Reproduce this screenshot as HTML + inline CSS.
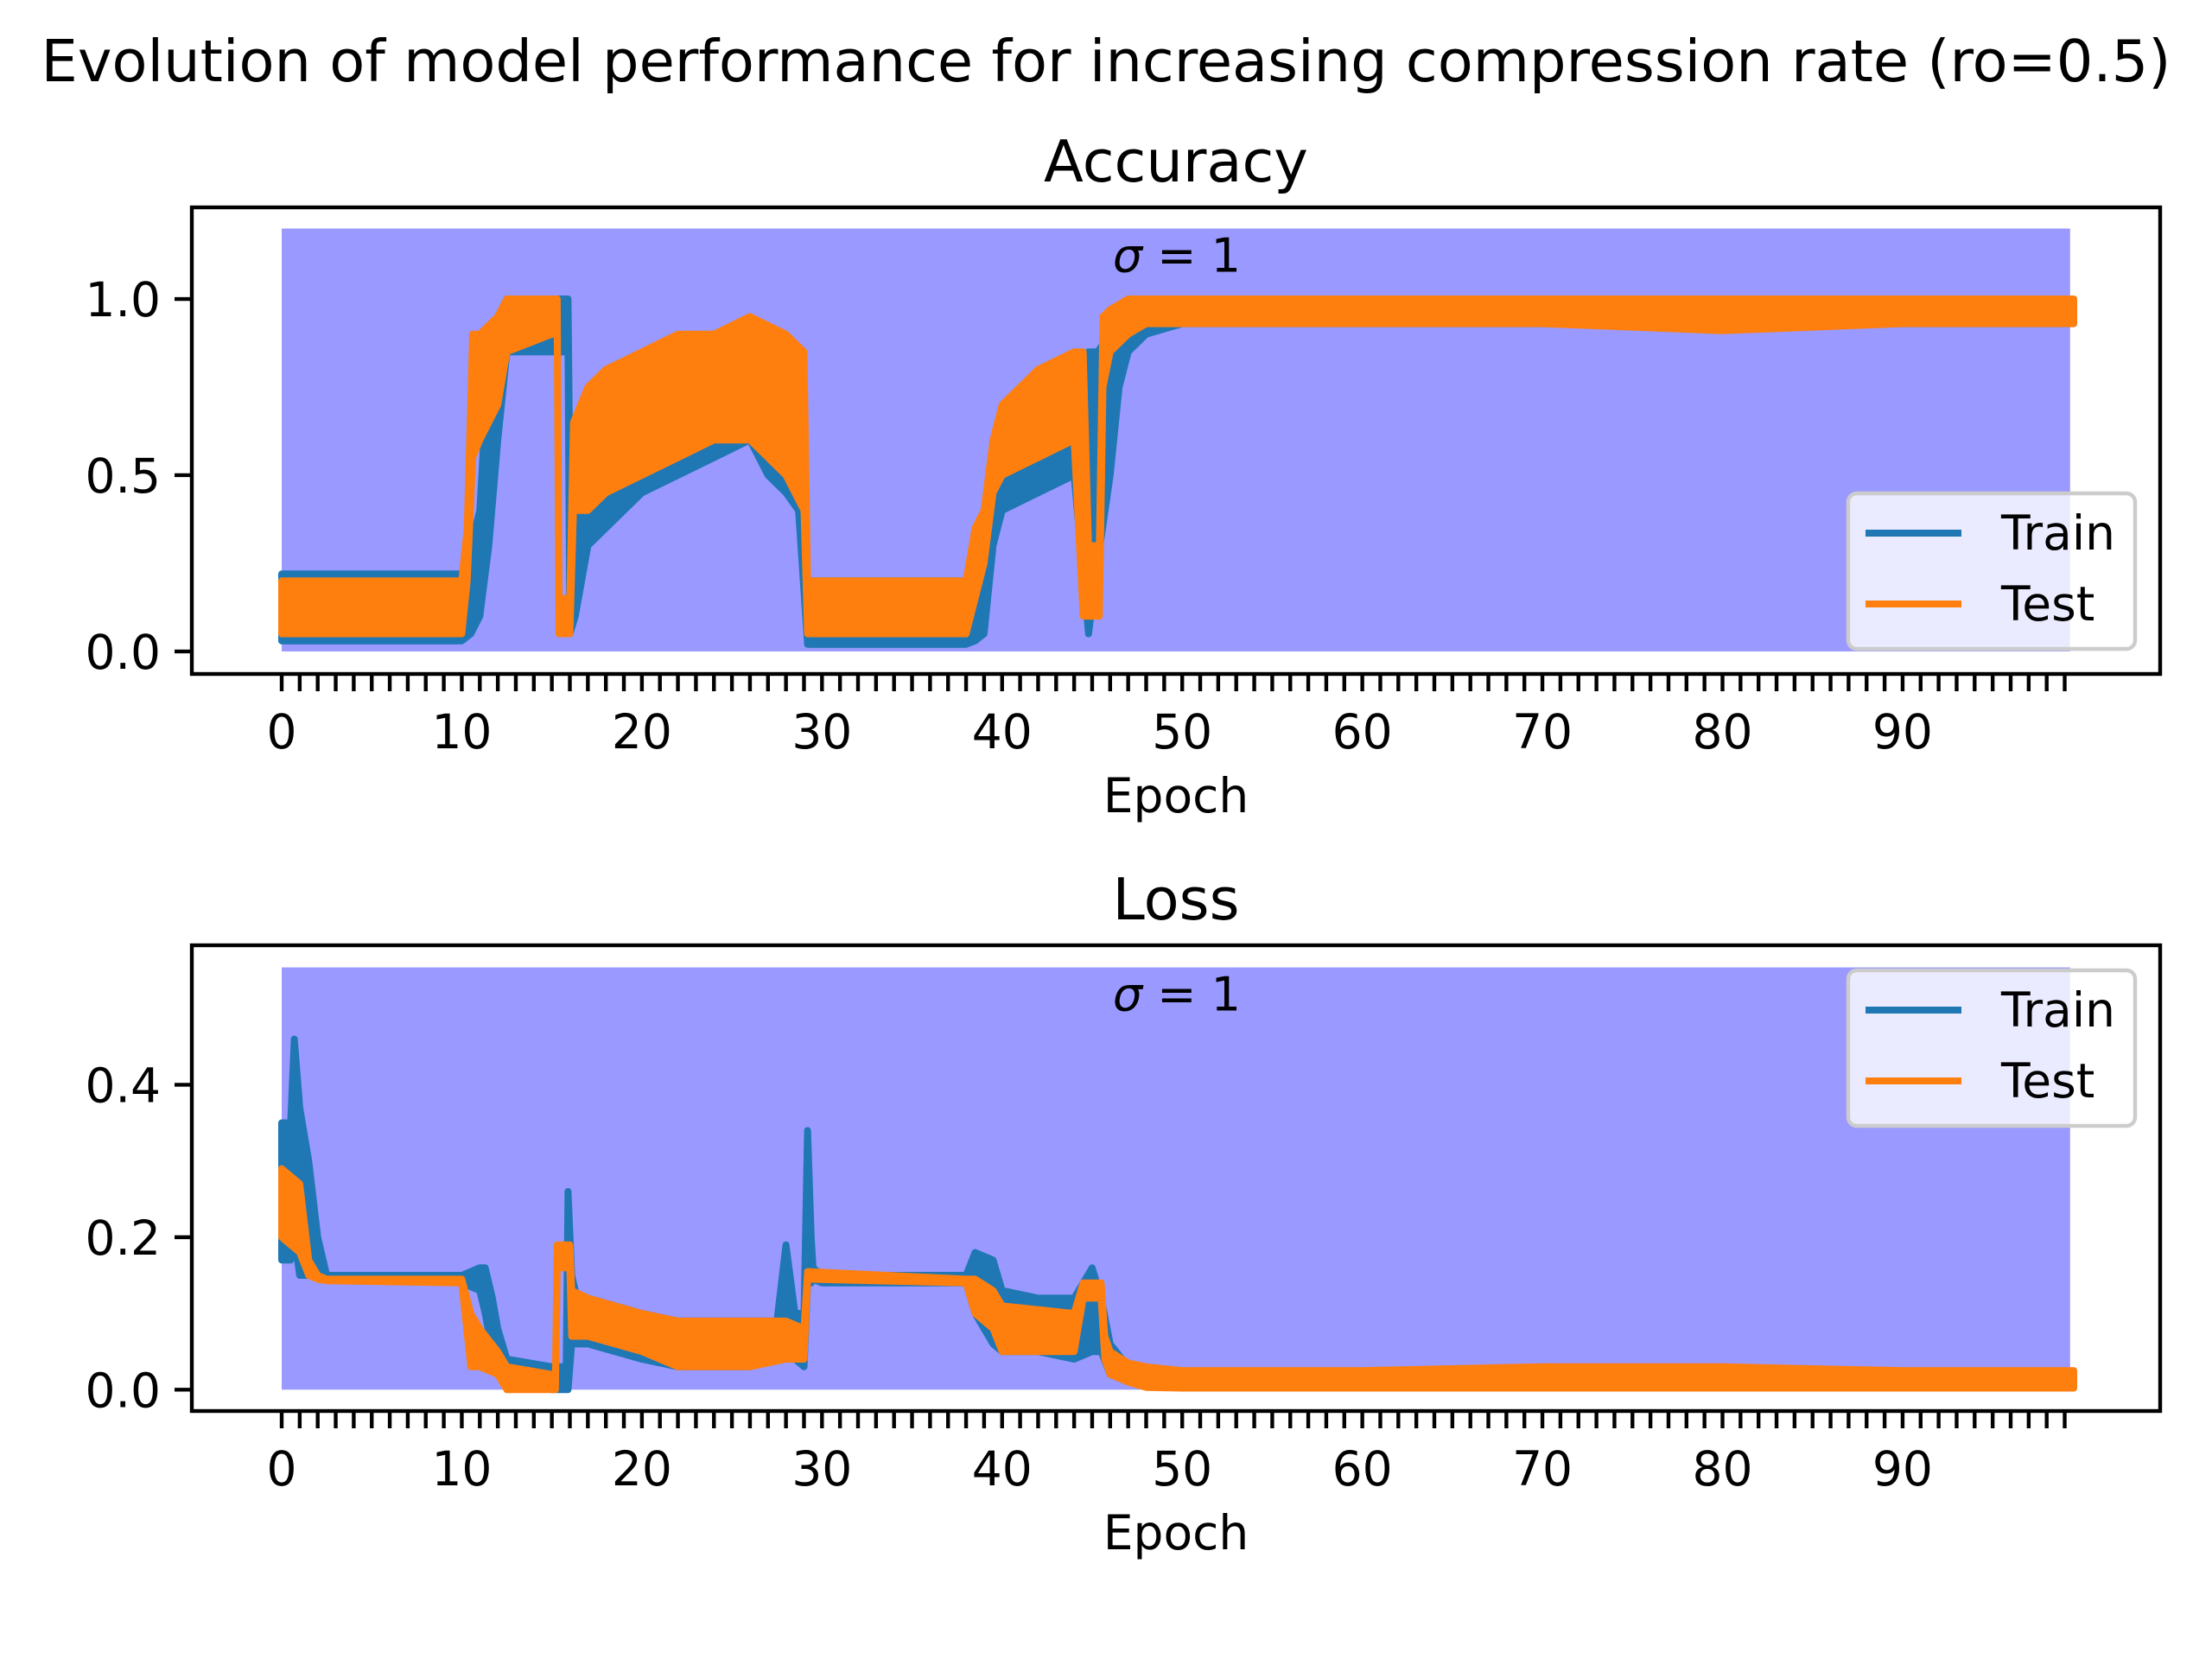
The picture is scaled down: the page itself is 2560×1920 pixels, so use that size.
<!DOCTYPE html>
<html><head><meta charset="utf-8"><style>
html,body{margin:0;padding:0;background:#fff;}
svg{display:block;font-family:"DejaVu Sans","Liberation Sans",sans-serif;}
</style></head><body>
<svg id="fig" width="2560" height="1920" viewBox="0 0 2560 1920" xmlns="http://www.w3.org/2000/svg">
<text x="1280" y="94" font-size="67" text-anchor="middle">Evolution of model performance for increasing compression rate (ro=0.5)</text>
</svg>
<script>
// ---- Accuracy data (envelope of noisy per-batch values) ----
const accTrainX  = [0,10,10.5,11,11.5,12,12.5,15,15.9,16.0,16.3,17,18,20,22,24,26,27,28,28.7,29.2,29.4,29.6,38,38.5,39,39.5,40,42,44,44.8,45.3,46,46.5,47,48,50,60,70,80,90,99.5];
const accTrainLo = [0.03,0.03,0.05,0.1,0.3,0.6,0.85,0.85,0.85,0.05,0.1,0.3,0.35,0.45,0.5,0.55,0.6,0.5,0.45,0.4,0.02,0.02,0.02,0.02,0.03,0.05,0.3,0.4,0.45,0.5,0.05,0.25,0.5,0.75,0.85,0.9,0.93,0.93,0.93,0.92,0.93,0.93];
const accTrainHi = [0.22,0.22,0.3,0.4,0.85,0.95,1.0,1.0,1.0,0.5,0.6,0.7,0.75,0.8,0.8,0.85,0.85,0.8,0.8,0.8,0.2,0.2,0.2,0.2,0.25,0.3,0.6,0.65,0.7,0.8,0.85,0.85,0.9,0.95,1.0,1.0,1.0,1.0,1.0,1.0,1.0,0.99];
const accTestX   = [0,10,10.3,10.6,11,12,12.5,15,15.3,15.4,16,16.2,17,18,20,22,24,26,28,29,29.2,38,38.5,39,39.5,40,42,44,44.5,44.8,45.4,45.6,46,47,48,50,60,70,80,90,99.5];
const accTestLo  = [0.05,0.05,0.2,0.55,0.6,0.7,0.85,0.9,0.9,0.05,0.05,0.4,0.4,0.45,0.5,0.55,0.6,0.6,0.5,0.4,0.05,0.05,0.15,0.25,0.45,0.5,0.55,0.6,0.1,0.1,0.1,0.75,0.85,0.9,0.93,0.93,0.93,0.93,0.91,0.93,0.93];
const accTestHi  = [0.2,0.2,0.35,0.9,0.9,0.95,1.0,1.0,1.0,0.15,0.15,0.65,0.75,0.8,0.85,0.9,0.9,0.95,0.9,0.85,0.2,0.2,0.35,0.4,0.6,0.7,0.8,0.85,0.85,0.3,0.3,0.95,0.97,1.0,1.0,1.0,1.0,1.0,1.0,1.0,1.0];
// ---- Loss data ----
const lossTrainX  = [0,0.5,0.7,1,1.5,2,2.5,10,11,11.3,11.7,12,12.5,15,15.8,15.9,16.1,16.4,17,20,22,24,26,27.5,28,28.5,29,29.2,29.4,29.5,30,38,38.5,39.5,40,42,44,45,45.5,46,47,48,50,60,70,80,90,99.5];
const lossTrainLo = [0.17,0.17,0.2,0.15,0.15,0.15,0.145,0.14,0.13,0.1,0.05,0.03,0.01,0.0,0.0,0.0,0.06,0.06,0.06,0.04,0.03,0.03,0.03,0.04,0.04,0.04,0.03,0.14,0.14,0.145,0.14,0.14,0.1,0.06,0.05,0.05,0.04,0.05,0.05,0.02,0.01,0.005,0.003,0.003,0.003,0.003,0.003,0.003];
const lossTrainHi = [0.35,0.35,0.46,0.37,0.3,0.2,0.15,0.15,0.16,0.16,0.12,0.08,0.04,0.03,0.03,0.26,0.15,0.12,0.12,0.1,0.09,0.09,0.09,0.09,0.19,0.1,0.1,0.34,0.2,0.16,0.15,0.15,0.18,0.17,0.13,0.12,0.12,0.16,0.12,0.06,0.03,0.025,0.02,0.02,0.02,0.02,0.02,0.02];
const lossTestX   = [0,1,1.5,2,2.5,10,10.5,11,12,12.5,15,15.2,15.3,16,16.1,17,20,22,26,28,29,29.2,38,38.5,39.5,40,44,44.5,45.5,45.7,46,47,48,50,60,70,80,90,99.5];
const lossTestLo  = [0.2,0.18,0.15,0.145,0.143,0.14,0.03,0.03,0.02,0.0,0.0,0.0,0.16,0.16,0.07,0.07,0.05,0.03,0.03,0.04,0.04,0.145,0.14,0.1,0.08,0.05,0.05,0.12,0.12,0.04,0.02,0.01,0.003,0.002,0.002,0.002,0.002,0.002,0.002];
const lossTestHi  = [0.29,0.27,0.17,0.15,0.145,0.145,0.1,0.08,0.05,0.03,0.02,0.02,0.19,0.19,0.13,0.12,0.1,0.09,0.09,0.09,0.08,0.155,0.145,0.145,0.13,0.11,0.1,0.14,0.14,0.07,0.05,0.035,0.03,0.025,0.025,0.03,0.03,0.025,0.025];
// ---- ticks ----
const xTickLabels = [0,10,20,30,40,50,60,70,80,90];
const accYTicks = [0.0,0.5,1.0];
const lossYTicks = [0.0,0.2,0.4];

const NS="http://www.w3.org/2000/svg";
const svg=document.getElementById('fig');
function mk(tag,attrs,parent){const e=document.createElementNS(NS,tag);for(const k in attrs)e.setAttribute(k,attrs[k]);(parent||svg).appendChild(e);return e;}

function panel(cfg){
  const L=222,R=2500,T=cfg.top,B=cfg.bottom;
  const X0=-4.99,X1=104.3;
  const xs=v=>L+(v-X0)/(X1-X0)*(R-L);
  const ys=v=>B-(v-cfg.ymin)/(cfg.ymax-cfg.ymin)*(B-T);
  const g=mk('g',{});
  
  
  const t=mk('text',{x:(L+R)/2,y:T-30,'font-size':67,'text-anchor':'middle'},g);
  t.textContent=cfg.title;
  
  
  const span=mk('rect',{x:xs(0),y:ys(cfg.spanTop),width:xs(99.3)-xs(0),height:ys(0)-ys(cfg.spanTop),fill:'#9999ff'},g);
  
  
  const st=mk('text',{x:xs(49.7),y:ys(cfg.spanTop)+50,'font-size':54,'text-anchor':'middle'},g);
  st.innerHTML='<tspan font-style="italic">σ</tspan> = 1';
  
  
  function band(X,Lo,Hi,color,name){
    let pts=[];
    for(let i=0;i<X.length;i++)pts.push(xs(X[i]).toFixed(1)+','+ys(Hi[i]).toFixed(1));
    for(let i=X.length-1;i>=0;i--)pts.push(xs(X[i]).toFixed(1)+','+ys(Lo[i]).toFixed(1));
    const p=mk('polygon',{points:pts.join(' '),fill:color,stroke:color,'stroke-width':8,'stroke-linejoin':'round'},g);
    
    
  }
  band(cfg.trX,cfg.trLo,cfg.trHi,'#1f77b4',cfg.name+'-train-series');
  band(cfg.teX,cfg.teLo,cfg.teHi,'#ff7f0e',cfg.name+'-test-series');
  const frame=mk('rect',{x:L,y:T,width:R-L,height:B-T,fill:'none',stroke:'#000','stroke-width':4.4},g);
  
  
  for(let e=0;e<=99;e++){
    mk('line',{x1:xs(e),x2:xs(e),y1:B,y2:B+20,stroke:'#000','stroke-width':4.4},g);
  }
  xTickLabels.forEach(v=>{
    const tl=mk('text',{x:xs(v),y:B+86,'font-size':55,'text-anchor':'middle'},g);
    tl.textContent=String(v);
    
    
  });
  const xl=mk('text',{x:(L+R)/2,y:B+160,'font-size':55,'text-anchor':'middle'},g);
  xl.textContent='Epoch';
  
  
  cfg.yticks.forEach(v=>{
    mk('line',{x1:L-20,x2:L,y1:ys(v),y2:ys(v),stroke:'#000','stroke-width':4.4},g);
    const yl=mk('text',{x:L-36,y:ys(v)+20,'font-size':55,'text-anchor':'end'},g);
    yl.textContent=v.toFixed(1);
    
    
  });
  const lg=mk('g',{},g);
  
  
  const ly=cfg.legendTop;
  mk('rect',{x:2139,y:ly,width:332,height:180,rx:10,fill:'#ffffff','fill-opacity':0.8,stroke:'#cccccc','stroke-width':4.4},lg);
  [['Train','#1f77b4',46],['Test','#ff7f0e',128]].forEach(([lab,c,dy])=>{
    mk('line',{x1:2159,x2:2270,y1:ly+dy,y2:ly+dy,stroke:c,'stroke-width':8},lg);
    const lt=mk('text',{x:2316,y:ly+dy+19,'font-size':55},lg);
    lt.textContent=lab;
    
    
  });
}
panel({name:'accuracy',title:'Accuracy',top:240,bottom:780,ymin:-0.064,ymax:1.26,spanTop:1.2,yticks:accYTicks,legendTop:571,
  trX:accTrainX,trLo:accTrainLo,trHi:accTrainHi,teX:accTestX,teLo:accTestLo,teHi:accTestHi});
panel({name:'loss',title:'Loss',top:1094,bottom:1633,ymin:-0.028,ymax:0.583,spanTop:0.554,yticks:lossYTicks,legendTop:1123,
  trX:lossTrainX,trLo:lossTrainLo,trHi:lossTrainHi,teX:lossTestX,teLo:lossTestLo,teHi:lossTestHi});
</script>
</body></html>
